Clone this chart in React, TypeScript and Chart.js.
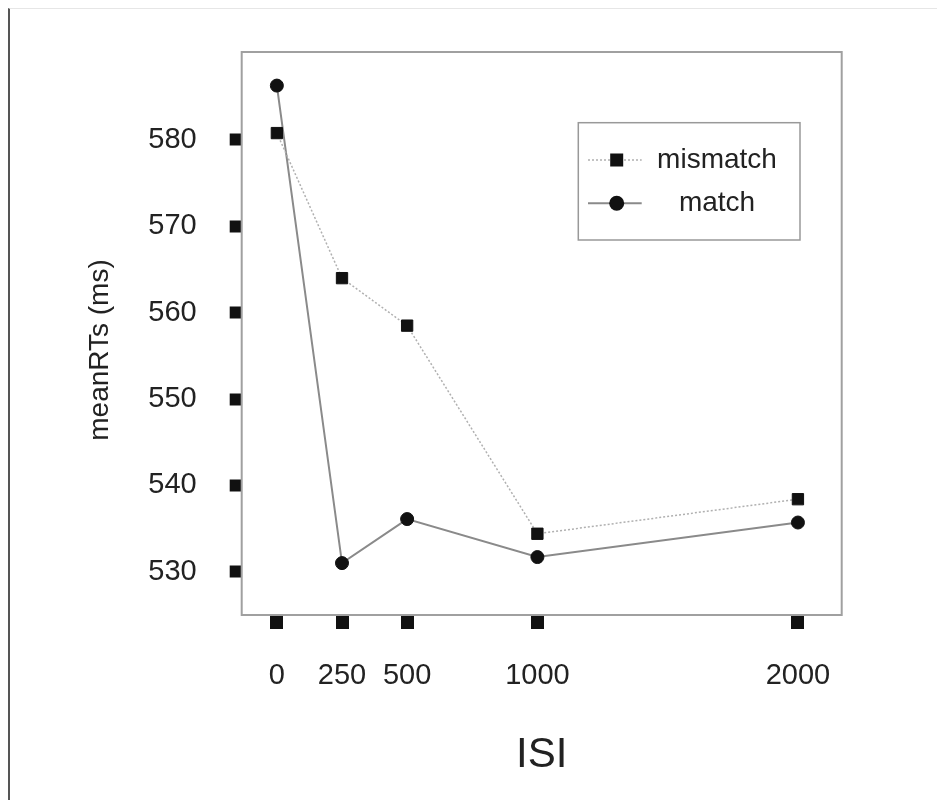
import { useEffect, useRef } from 'react';
import { Chart, registerables } from 'chart.js';

Chart.register(...registerables);

// ---- data ----
const isiValues = [0, 250, 500, 1000, 2000];
const mismatchRT = [580.8, 564.0, 558.5, 534.4, 538.4];
const matchRT = [586.3, 531.0, 536.1, 531.7, 535.7];
const seriesNames = ['mismatch', 'match'];
const xTickValues = [0, 250, 500, 1000, 2000];
const yTickValues = [530, 540, 550, 560, 570, 580];
const xTitle = 'ISI';
const yTitle = 'meanRTs (ms)';

const FONT = "'Liberation Sans', Arial, Helvetica, sans-serif";

const frameBoxPlugin = {
  id: 'frameBox',
  beforeDatasetsDraw(chart: any, _a: any, opts: any) {
    const { ctx, chartArea } = chart;
    ctx.save();
    ctx.strokeStyle = opts.color;
    ctx.lineWidth = opts.width;
    ctx.strokeRect(chartArea.left, chartArea.top, chartArea.right - chartArea.left, chartArea.bottom - chartArea.top);
    ctx.restore();
  },
};

const yTitlePlugin = {
  id: 'yTitle',
  afterDraw(chart: any, _a: any, opts: any) {
    const { ctx, chartArea } = chart;
    const cx = chartArea.left + opts.offsetX;
    const cy = (chartArea.top + chartArea.bottom) / 2 + opts.offsetY;
    ctx.save();
    ctx.translate(cx, cy);
    ctx.rotate(-Math.PI / 2);
    ctx.font = opts.font;
    ctx.fillStyle = opts.color;
    ctx.textAlign = 'center';
    ctx.textBaseline = 'middle';
    ctx.fillText(opts.text, 0, 0);
    ctx.restore();
  },
};

const boxLegendPlugin = {
  id: 'boxLegend',
  afterDatasetsDraw(chart: any, _a: any, opts: any) {
    const { ctx, chartArea } = chart;
    const x0 = chartArea.left + opts.offsetX;
    const y0 = chartArea.top + opts.offsetY;
    ctx.save();
    ctx.strokeStyle = opts.borderColor;
    ctx.lineWidth = opts.borderWidth;
    ctx.strokeRect(x0, y0, opts.width, opts.height);
    chart.data.datasets.forEach((ds: any, i: number) => {
      const cy = y0 + opts.firstRowY + i * opts.rowGap;
      ctx.beginPath();
      ctx.setLineDash(ds.borderDash || []);
      ctx.strokeStyle = ds.borderColor;
      ctx.lineWidth = ds.borderWidth;
      ctx.moveTo(x0 + opts.lineStart, cy);
      ctx.lineTo(x0 + opts.lineEnd, cy);
      ctx.stroke();
      ctx.setLineDash([]);
      const mx = x0 + opts.markerX;
      ctx.fillStyle = ds.pointBackgroundColor;
      if (ds.pointStyle === 'rect') {
        const s = opts.squareSize;
        ctx.fillRect(mx - s / 2, cy - s / 2, s, s);
      } else {
        ctx.beginPath();
        ctx.arc(mx, cy, opts.circleSize / 2, 0, Math.PI * 2);
        ctx.fill();
      }
      ctx.fillStyle = opts.color;
      ctx.font = opts.font;
      ctx.textAlign = 'center';
      ctx.textBaseline = 'middle';
      ctx.fillText(ds.label, x0 + opts.textX, cy);
    });
    ctx.restore();
  },
};

export default function App() {
  const ref = useRef<HTMLCanvasElement | null>(null);

  useEffect(() => {
    if (!ref.current) return;
    const chart = new Chart(ref.current, {
      type: 'line',
      data: {
        datasets: [
          {
            label: seriesNames[0],
            data: isiValues.map((x, i) => ({ x, y: mismatchRT[i] })),
            borderColor: '#b0b0b0',
            borderWidth: 1.5,
            borderDash: [2, 2],
            pointStyle: 'rect',
            pointRadius: 8,
            pointBackgroundColor: '#111',
            pointBorderColor: '#111',
            pointBorderWidth: 1,
            tension: 0,
          },
          {
            label: seriesNames[1],
            data: isiValues.map((x, i) => ({ x, y: matchRT[i] })),
            borderColor: '#8a8a8a',
            borderWidth: 2,
            pointStyle: 'circle',
            pointRadius: 6.5,
            pointBackgroundColor: '#111',
            pointBorderColor: '#111',
            pointBorderWidth: 1,
            tension: 0,
          },
        ],
      },
      options: {
        animation: false,
        responsive: true,
        maintainAspectRatio: false,
        layout: { padding: { left: 0, top: 43, right: 103.3, bottom: 0 } },
        plugins: {
          legend: { display: false },
          tooltip: { enabled: false },
          frameBox: { color: '#a0a0a0', width: 2 },
          yTitle: { text: yTitle, font: `28px ${FONT}`, color: '#222', offsetX: -141.2, offsetY: 16.5 },
          boxLegend: {
            offsetX: 336.6,
            offsetY: 70.7,
            width: 221.7,
            height: 117.3,
            borderColor: '#999',
            borderWidth: 1.5,
            firstRowY: 37.3,
            rowGap: 43.3,
            lineStart: 9.7,
            lineEnd: 63.4,
            markerX: 38.4,
            squareSize: 13,
            circleSize: 15,
            textX: 138.7,
            font: `28px ${FONT}`,
            color: '#222',
          },
        } as any,
        scales: {
          x: {
            type: 'linear',
            position: 'bottom',
            min: -135,
            max: 2168,
            afterBuildTicks: (s: any) => {
              s.ticks = xTickValues.map((v) => ({ value: v }));
            },
            afterFit: (s: any) => {
              s.height = 185;
              s.paddingLeft = 0;
              s.paddingRight = 0;
            },
            grid: {
              display: true,
              drawOnChartArea: false,
              drawTicks: true,
              tickLength: 14,
              tickWidth: 13,
              tickColor: '#111',
            },
            border: { display: true, width: 2, color: 'rgba(0,0,0,0)' },
            ticks: {
              autoSkip: false,
              maxRotation: 0,
              padding: 30,
              color: '#222',
              font: { family: FONT, size: 29 },
              callback: (v: any) => String(v),
            },
            title: {
              display: true,
              text: xTitle,
              color: '#222',
              font: { family: FONT, size: 42 },
              padding: { top: 0, bottom: 19.8 },
            },
          },
          y: {
            type: 'linear',
            min: 524.99,
            max: 590.19,
            afterBuildTicks: (s: any) => {
              s.ticks = yTickValues.map((v) => ({ value: v }));
            },
            afterFit: (s: any) => {
              s.width = 231.7;
              s.paddingTop = 0;
              s.paddingBottom = 0;
            },
            grid: {
              display: true,
              drawOnChartArea: false,
              drawTicks: true,
              tickLength: 12,
              tickWidth: 12,
              tickColor: '#111',
            },
            border: { display: false },
            ticks: {
              padding: 33,
              color: '#222',
              font: { family: FONT, size: 29 },
              callback: (v: any) => String(v),
            },
            title: { display: false },
          },
        },
      } as any,
      plugins: [frameBoxPlugin, yTitlePlugin, boxLegendPlugin],
    });
    return () => chart.destroy();
  }, []);

  return (
    <>
      <style>{'html,body{overflow:hidden}'}</style>
      <div
        style={{
          width: 937,
          height: 792,
          boxSizing: 'border-box',
          borderLeft: '2px solid #555',
          borderTop: '1px solid #e6e6e6',
        }}
      >
        <div style={{ position: 'relative', width: 935, height: 791 }}>
          <canvas ref={ref} />
        </div>
      </div>
    </>
  );
}
